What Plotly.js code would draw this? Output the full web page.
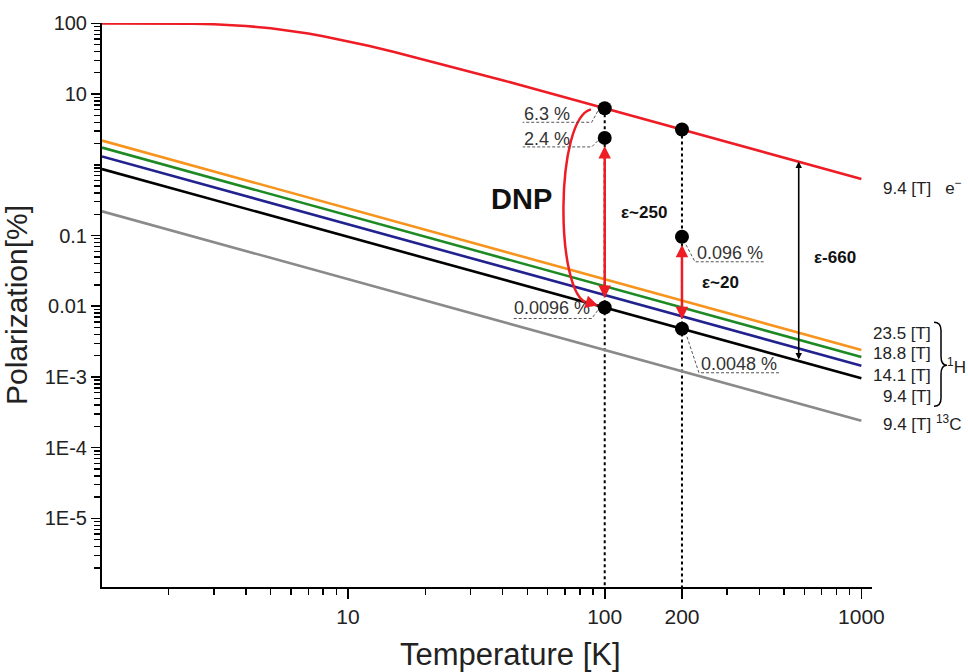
<!DOCTYPE html>
<html><head><meta charset="utf-8">
<script src="https://cdn.plot.ly/plotly-3.0.1.min.js"></script>
<style>html,body{margin:0;padding:0;background:#fff}</style>
</head><body>
<div id="chart" style="width:968px;height:672px"></div>
<script>
// ---- data ----
const temperatureK = [1.1,1.5,2,2.5,3,4,5,6,7,8,10,12,15,20,25,30,40,50,70,100,150,200,300,500,700,1000];
const electron94T  = [100,99.95,99.6,98.7,97.0,91.8,85.2,78.3,71.7,65.8,55.9,48.2,39.8,30.5,24.7,20.7,15.7,12.55,8.99,6.3,4.2,3.15,2.1,1.26,0.90,0.63];
const nuclearT     = [1.1, 1000];
const proton235T   = [2.2, 0.0024];
const proton188T   = [1.75, 0.00192];
const proton141T   = [1.31, 0.00144];
const proton94T    = [0.87, 0.00096];
const carbon94T    = [0.22, 0.00024];

const pointT   = [100, 100, 100, 200, 200, 200];
const pointPol = [6.3, 2.4, 0.0096, 3.15, 0.096, 0.0048];

const eps660T = 570, eps660Top = 1.11, eps660Bottom = 0.00168;

const xTickVals = [10, 100, 200, 1000];
const xTickText = ['10', '100', '200', '1000'];
const yTickVals = [1e-5, 1e-4, 1e-3, 0.01, 0.1, 10, 100];
const yTickText = ['1E-5', '1E-4', '1E-3', '0.01', '0.1', '10', '100'];

const seriesNames = ['9.4 [T] e⁻', '23.5 [T]', '18.8 [T]', '14.1 [T]', '9.4 [T]', '9.4 [T] ¹³C'];

// ---- styling ----
const RED = '#ee1c24', ORANGE = '#f7941d', GREEN = '#1e8a24', BLUE = '#22228f', BLACK = '#000000', GRAY = '#8a8a8a';
const FONT = 'Liberation Sans, Arial, sans-serif';
const L = v => Math.log10(v);
const xRange = [L(1.1), L(1100)];
const yRange = [-5.97, 2.005];

function lineTrace(x, y, color, name) {
  return {x: x, y: y, type: 'scatter', mode: 'lines', name: name, line: {color: color, width: 2.6}, hoverinfo: 'skip'};
}
const traces = [
  lineTrace(nuclearT, carbon94T, GRAY, seriesNames[5]),
  lineTrace(nuclearT, proton94T, BLACK, seriesNames[4]),
  lineTrace(nuclearT, proton141T, BLUE, seriesNames[3]),
  lineTrace(nuclearT, proton188T, GREEN, seriesNames[2]),
  lineTrace(nuclearT, proton235T, ORANGE, seriesNames[1]),
  lineTrace(temperatureK, electron94T, RED, seriesNames[0]),
  {x: pointT, y: pointPol, type: 'scatter', mode: 'markers', marker: {color: '#000', size: 14}, hoverinfo: 'skip', cliponaxis: false}
];

// minor ticks
const yMinor = [];
for (let n = -6; n <= 1; n++) for (let k = 1; k <= 9; k++) {
  const v = k * Math.pow(10, n);
  if (L(v) < yRange[0] || L(v) > yRange[1]) continue;
  if (yTickVals.some(t => Math.abs(t - v) / v < 1e-9)) continue;
  yMinor.push(v);
}
const xMinor = [];
for (let n = 0; n <= 2; n++) for (let k = 2; k <= 9; k++) {
  const v = k * Math.pow(10, n);
  if (xTickVals.some(t => Math.abs(t - v) / v < 1e-9)) continue;
  xMinor.push(v);
}

// ---- shapes ----
const yBottom = Math.pow(10, yRange[0]);
const shapes = [
  {type: 'line', xref: 'x', yref: 'y', x0: pointT[0], x1: pointT[0], y0: pointPol[0], y1: yBottom, line: {color: '#000', width: 2, dash: '3px,3px'}, layer: 'below'},
  {type: 'line', xref: 'x', yref: 'y', x0: pointT[3], x1: pointT[3], y0: pointPol[3], y1: yBottom, line: {color: '#000', width: 2, dash: '3px,3px'}, layer: 'below'}
];
// DNP curve (bezier) from the electron point down to the thermal proton point
const T0 = pointT[0];
shapes.push({
  type: 'path', xref: 'x', yref: 'y',
  path: 'M ' + T0 * 0.884 + ',' + pointPol[0] * 0.965 +
        ' C ' + T0 * 0.64 + ',' + pointPol[0] * 0.72 +
        ' ' + T0 * 0.64 + ',' + pointPol[2] * 1.6 +
        ' ' + T0 * 0.853 + ',' + pointPol[2] * 1.16,
  line: {color: RED, width: 2.5}
});
// dashed leader lines for value labels (pixel offsets from each point)
const leaders = [
  [0, 'M -7,-3 L -13,-14 L -82,-14'],
  [1, 'M -7,-3 L -13,-9 L -82,-9'],
  [2, 'M -7,-3 L -13,-11 L -93,-11'],
  [4, 'M 4,-8 L 13,-25 L 83,-25'],
  [5, 'M 5,-8 L 17,-44 L 97,-44']
];
leaders.forEach(([i, p]) => shapes.push({
  type: 'path', xref: 'x', yref: 'y', xsizemode: 'pixel', ysizemode: 'pixel',
  xanchor: pointT[i], yanchor: pointPol[i], path: p,
  line: {color: '#555', width: 1, dash: '3px,2px'}
}));
// brace for the 1H group (outside plot area -> paper refs)
const fracY = v => (L(v) - yRange[0]) / (yRange[1] - yRange[0]);
shapes.push({
  type: 'path', xref: 'paper', yref: 'paper', xsizemode: 'pixel', ysizemode: 'pixel',
  xanchor: 1, yanchor: fracY(proton94T[1]),
  path: 'M 62,56 Q 69,56 69,48 L 69,22 Q 69,13 75,13 Q 69,13 69,4 L 69,-20 Q 69,-28 62,-28',
  line: {color: '#000', width: 1.5}
});

// ---- annotations ----
const valueLabels = ['6.3 %', '2.4 %', '0.0096 %', '', '0.096 %', '0.0048 %'];
const labelPos = [
  {xanchor: 'right', xshift: -33, yshift: -6},
  {xanchor: 'right', xshift: -33, yshift: -1},
  {xanchor: 'right', xshift: -13, yshift: -1},
  null,
  {xanchor: 'left', xshift: 13, yshift: -16},
  {xanchor: 'left', xshift: 17, yshift: -35}
];
const ann = [];
valueLabels.forEach((t, i) => {
  if (!t) return;
  ann.push(Object.assign({x: L(pointT[i]), y: L(pointPol[i]), xref: 'x', yref: 'y', text: t, showarrow: false,
    font: {family: FONT, size: 18, color: '#333'}}, labelPos[i]));
});
// red DNP enhancement arrows
ann.push({x: L(pointT[0]), y: L(pointPol[1]), ax: L(pointT[0]), ay: L(pointPol[2]), xref: 'x', yref: 'y', axref: 'x', ayref: 'y',
  text: '', showarrow: true, arrowhead: 2, startarrowhead: 2, arrowside: 'end+start', arrowsize: 1, startarrowsize: 1,
  arrowwidth: 2.5, arrowcolor: RED, standoff: 8, startstandoff: 8});
ann.push({x: L(pointT[3]), y: L(pointPol[4]), ax: L(pointT[3]), ay: L(pointPol[5]), xref: 'x', yref: 'y', axref: 'x', ayref: 'y',
  text: '', showarrow: true, arrowhead: 2, startarrowhead: 2, arrowside: 'end+start', arrowsize: 1, startarrowsize: 1,
  arrowwidth: 2.5, arrowcolor: RED, standoff: 8, startstandoff: 8});
// DNP curve arrowhead
ann.push({x: L(pointT[2]), y: L(pointPol[2]), ax: -16, ay: -5, xref: 'x', yref: 'y', text: '', showarrow: true,
  arrowhead: 2, arrowsize: 1, arrowwidth: 2.5, arrowcolor: RED, standoff: 7});
// black epsilon-660 arrow
ann.push({x: L(eps660T), y: L(eps660Top), ax: L(eps660T), ay: L(eps660Bottom), xref: 'x', yref: 'y', axref: 'x', ayref: 'y',
  text: '', showarrow: true, arrowhead: 2, startarrowhead: 2, arrowside: 'end+start', arrowsize: 0.8, startarrowsize: 0.8,
  arrowwidth: 1.6, arrowcolor: '#000', standoff: 0, startstandoff: 0});
// texts
const mid = (a, b) => (L(a) + L(b)) / 2;
ann.push({x: L(pointT[0]), y: mid(pointPol[1], pointPol[2]), xref: 'x', yref: 'y', text: '<b>DNP</b>', showarrow: false,
  xanchor: 'right', xshift: -51, yshift: 24, font: {family: FONT, size: 29, color: '#111'}});
ann.push({x: L(pointT[0]), y: mid(pointPol[1], pointPol[2]), xref: 'x', yref: 'y', text: '<b>ε~250</b>', showarrow: false,
  xanchor: 'left', xshift: 14, yshift: 10, font: {family: FONT, size: 17, color: '#111'}});
ann.push({x: L(pointT[3]), y: mid(pointPol[4], pointPol[5]), xref: 'x', yref: 'y', text: '<b>ε~20</b>', showarrow: false,
  xanchor: 'left', xshift: 18, yshift: 0, font: {family: FONT, size: 17, color: '#111'}});
ann.push({x: L(eps660T), y: mid(eps660Top, eps660Bottom), xref: 'x', yref: 'y', text: '<b>ε-660</b>', showarrow: false,
  xanchor: 'left', xshift: 13, yshift: 4, font: {family: FONT, size: 17, color: '#111'}});
// right-hand series labels
const xEnd = L(1000);
const RF = {family: FONT, size: 17, color: '#222'};
ann.push({x: xEnd, y: L(electron94T[electron94T.length - 1]), xref: 'x', yref: 'y', text: '9.4 [T]\u00a0\u00a0\u00a0e<sup>−</sup>', showarrow: false,
  xanchor: 'left', xshift: 20, yshift: -8, font: RF});
ann.push({x: xEnd, y: L(proton235T[1]), xref: 'x', yref: 'y', text: seriesNames[1], showarrow: false, xanchor: 'right', xshift: 72, yshift: 17, font: RF});
ann.push({x: xEnd, y: L(proton188T[1]), xref: 'x', yref: 'y', text: seriesNames[2], showarrow: false, xanchor: 'right', xshift: 72, yshift: 3, font: RF});
ann.push({x: xEnd, y: L(proton141T[1]), xref: 'x', yref: 'y', text: seriesNames[3], showarrow: false, xanchor: 'right', xshift: 72, yshift: -10, font: RF});
ann.push({x: xEnd, y: L(proton94T[1]), xref: 'x', yref: 'y', text: seriesNames[4], showarrow: false, xanchor: 'right', xshift: 72, yshift: -18, font: RF});
ann.push({x: xEnd, y: L(proton94T[1]), xref: 'x', yref: 'y', text: '<sup>1</sup>H', showarrow: false, xanchor: 'left', xshift: 84, yshift: 12, font: RF});
ann.push({x: xEnd, y: L(carbon94T[1]), xref: 'x', yref: 'y', text: '9.4 [T] <sup>13</sup>C', showarrow: false, xanchor: 'left', xshift: 20, yshift: -2, font: RF});
// x-axis title (offset right of the axis centre, as in the reference)
ann.push({x: 0.531, y: 0, xref: 'paper', yref: 'paper', text: 'Temperature [K]', showarrow: false,
  xanchor: 'center', yanchor: 'middle', yshift: -67, font: {family: FONT, size: 31, color: '#222'}});

const layout = {
  width: 968, height: 672,
  margin: {l: 102, r: 96, t: 23, b: 85},
  paper_bgcolor: '#fff', plot_bgcolor: '#fff',
  showlegend: false,
  font: {family: FONT, color: '#222'},
  xaxis: {
    type: 'log', range: xRange, showgrid: false, zeroline: false,
    showline: true, linecolor: '#000', linewidth: 2,
    tickmode: 'array', tickvals: xTickVals, ticktext: xTickText,
    ticks: 'outside', ticklen: 10, tickwidth: 1.6, tickcolor: '#000',
    tickfont: {family: FONT, size: 21, color: '#222'},
    minor: {tickmode: 'array', tickvals: xMinor, ticks: 'outside', ticklen: 6, tickwidth: 1.4, tickcolor: '#000', showgrid: false},
    title: {text: ''}
  },
  yaxis: {
    type: 'log', range: yRange, showgrid: false, zeroline: false,
    showline: true, linecolor: '#000', linewidth: 2,
    tickmode: 'array', tickvals: yTickVals, ticktext: yTickText,
    ticks: 'outside', ticklen: 9, tickwidth: 1.6, tickcolor: '#000',
    tickfont: {family: FONT, size: 20, color: '#222'},
    minor: {tickmode: 'array', tickvals: yMinor, ticks: 'outside', ticklen: 6, tickwidth: 1.4, tickcolor: '#000', showgrid: false},
    title: {text: 'Polarization[%]', font: {family: FONT, size: 30, color: '#222'}, standoff: 8}
  },
  shapes: shapes,
  annotations: ann
};

Plotly.newPlot('chart', traces, layout, {displayModeBar: false, staticPlot: true});
</script>
</body></html>
